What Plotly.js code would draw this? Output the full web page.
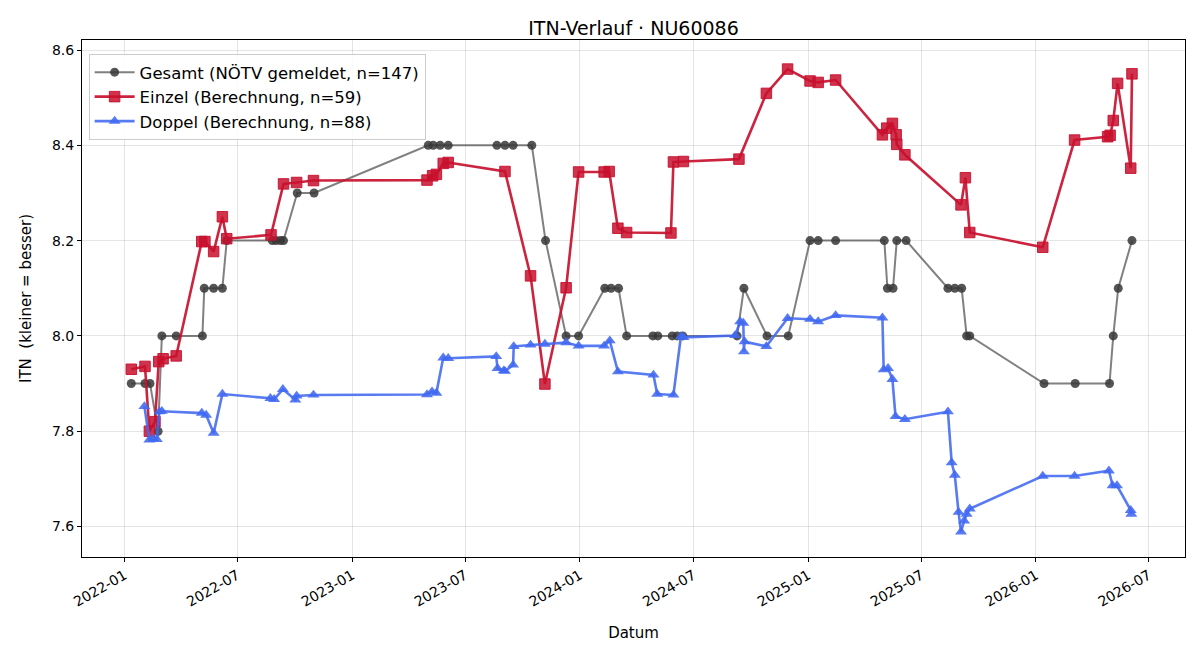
<!DOCTYPE html>
<html>
<head>
<meta charset="utf-8">
<script src="https://cdn.plot.ly/plotly-3.0.1.min.js"></script>
<style>html,body{margin:0;padding:0;background:#fff;}#chart{width:1200px;height:660px;}</style>
</head>
<body>
<div id="chart"></div>
<script>
const gesamtDates = ["2022-01-12","2022-02-03","2022-02-11","2022-02-24","2022-03-02","2022-03-25","2022-05-06","2022-05-09","2022-05-24","2022-06-07","2022-06-14","2022-08-26","2022-09-01","2022-09-08","2022-09-13","2022-10-05","2022-11-01","2023-05-03","2023-05-11","2023-05-22","2023-06-04","2023-08-21","2023-09-03","2023-09-16","2023-10-16","2023-11-07","2023-12-10","2023-12-30","2024-02-10","2024-02-20","2024-03-03","2024-03-16","2024-04-27","2024-05-05","2024-05-28","2024-06-05","2024-06-14","2024-09-09","2024-09-20","2024-10-27","2024-11-30","2025-01-04","2025-01-17","2025-02-14","2025-05-03","2025-05-08","2025-05-17","2025-05-23","2025-06-07","2025-08-13","2025-08-24","2025-09-04","2025-09-12","2025-09-17","2026-01-14","2026-03-05","2026-04-29","2026-05-05","2026-05-13","2026-06-04"];
const gesamtValues = [7.9,7.9,7.9,7.8,8.0,8.0,8.0,8.1,8.1,8.1,8.2,8.2,8.2,8.2,8.2,8.3,8.3,8.4,8.4,8.4,8.4,8.4,8.4,8.4,8.4,8.2,8.0,8.0,8.1,8.1,8.1,8.0,8.0,8.0,8.0,8.0,8.0,8.0,8.1,8.0,8.0,8.2,8.2,8.2,8.2,8.1,8.1,8.2,8.2,8.1,8.1,8.1,8.0,8.0,7.9,7.9,7.9,8.0,8.1,8.2];

const einzelDates = ["2022-01-12","2022-02-03","2022-02-10","2022-02-19","2022-02-25","2022-03-04","2022-03-25","2022-05-05","2022-05-10","2022-05-24","2022-06-07","2022-06-14","2022-08-24","2022-09-13","2022-10-04","2022-10-31","2023-05-01","2023-05-10","2023-05-16","2023-05-27","2023-06-04","2023-09-03","2023-10-14","2023-11-06","2023-12-10","2023-12-30","2024-02-09","2024-02-17","2024-03-02","2024-03-16","2024-05-26","2024-05-30","2024-06-15","2024-09-12","2024-10-26","2024-11-29","2025-01-04","2025-01-17","2025-02-14","2025-04-30","2025-05-07","2025-05-16","2025-05-22","2025-05-23","2025-06-05","2025-09-03","2025-09-10","2025-09-17","2026-01-12","2026-03-04","2026-04-26","2026-04-30","2026-05-05","2026-05-12","2026-06-02","2026-06-04"];
const einzelValues = [7.930,7.936,7.800,7.820,7.946,7.952,7.958,8.198,8.198,8.177,8.250,8.204,8.212,8.319,8.322,8.326,8.327,8.336,8.339,8.362,8.364,8.345,8.126,7.899,8.101,8.344,8.344,8.345,8.226,8.217,8.216,8.365,8.366,8.371,8.509,8.560,8.535,8.532,8.537,8.422,8.436,8.446,8.422,8.402,8.380,8.275,8.332,8.217,8.186,8.411,8.418,8.421,8.452,8.530,8.352,8.550];

const doppelDates = ["2022-02-02","2022-02-10","2022-02-16","2022-02-22","2022-02-26","2022-03-02","2022-05-05","2022-05-12","2022-05-24","2022-06-07","2022-08-23","2022-08-29","2022-09-12","2022-10-02","2022-10-04","2022-10-31","2023-05-01","2023-05-09","2023-05-16","2023-05-27","2023-06-04","2023-08-20","2023-08-22","2023-09-01","2023-09-03","2023-09-16","2023-09-17","2023-10-14","2023-11-06","2023-12-10","2023-12-30","2024-02-09","2024-02-18","2024-03-02","2024-04-28","2024-05-04","2024-05-30","2024-06-11","2024-06-15","2024-09-06","2024-09-14","2024-09-19","2024-09-20","2024-09-21","2024-10-26","2024-11-29","2025-01-04","2025-01-17","2025-02-14","2025-04-30","2025-05-02","2025-05-09","2025-05-16","2025-05-21","2025-06-05","2025-08-13","2025-08-19","2025-08-24","2025-08-30","2025-09-03","2025-09-08","2025-09-12","2025-09-17","2026-01-12","2026-03-04","2026-04-28","2026-05-04","2026-05-11","2026-06-02","2026-06-03"];
const doppelValues = [7.852,7.782,7.784,7.783,7.841,7.842,7.838,7.834,7.796,7.878,7.869,7.867,7.888,7.866,7.874,7.876,7.877,7.883,7.880,7.954,7.953,7.957,7.932,7.927,7.926,7.939,7.978,7.981,7.983,7.986,7.979,7.979,7.990,7.925,7.918,7.878,7.876,7.999,7.997,8.001,8.030,8.027,7.967,7.988,7.978,8.037,8.035,8.030,8.043,8.038,7.929,7.932,7.909,7.831,7.825,7.841,7.734,7.708,7.630,7.589,7.612,7.626,7.637,7.706,7.706,7.717,7.686,7.686,7.634,7.626];

const seriesNames = ["Gesamt (NÖTV gemeldet, n=147)","Einzel (Berechnung, n=59)","Doppel (Berechnung, n=88)"];
const xTickVals = ["2022-01-01","2022-07-01","2023-01-01","2023-07-01","2024-01-01","2024-07-01","2025-01-01","2025-07-01","2026-01-01","2026-07-01"];
const xTickText = ["2022-01","2022-07","2023-01","2023-07","2024-01","2024-07","2025-01","2025-07","2026-01","2026-07"];
const yTickVals = [7.6,7.8,8.0,8.2,8.4,8.6];
const yTickText = ["7.6","7.8","8.0","8.2","8.4","8.6"];

const FONT = "DejaVu Sans, sans-serif";

const traces = [
  {
    x: gesamtDates, y: gesamtValues, name: seriesNames[0], type: "scatter", mode: "lines+markers",
    line: {color: "rgba(60,60,60,0.65)", width: 2},
    marker: {symbol: "circle", size: 9, color: "rgba(55,55,55,0.85)", line: {width: 0}}
  },
  {
    x: einzelDates, y: einzelValues, name: seriesNames[1], type: "scatter", mode: "lines+markers",
    line: {color: "rgba(200,16,46,0.92)", width: 2.6},
    marker: {symbol: "square", size: 10.5, color: "rgba(200,16,46,0.85)", line: {width: 1, color: "rgba(200,16,46,0.9)"}}
  },
  {
    x: doppelDates, y: doppelValues, name: seriesNames[2], type: "scatter", mode: "lines+markers",
    line: {color: "rgba(65,105,240,0.88)", width: 2.6},
    marker: {symbol: "triangle-up", size: 10.5, color: "rgba(65,105,240,0.88)", line: {width: 0}}
  }
];

const layout = {
  width: 1200, height: 660,
  margin: {l: 82, r: 15, t: 40, b: 103},
  paper_bgcolor: "#fff", plot_bgcolor: "#fff",
  font: {family: FONT, size: 14, color: "#000"},
  title: {text: "ITN-Verlauf · NU60086", font: {family: FONT, size: 19, color: "#000"}, x: 0.5, xanchor: "center", xref: "paper", y: 0.957, yanchor: "middle"},
  showlegend: true,
  legend: {x: 0.006, y: 0.973, xanchor: "left", yanchor: "top", bgcolor: "rgba(255,255,255,0.85)", bordercolor: "#cccccc", borderwidth: 1, font: {family: FONT, size: 16.5}, itemwidth: 40},
  xaxis: {
    type: "date",
    range: ["2021-10-25", "2026-08-28"],
    tickvals: xTickVals, ticktext: xTickText, tickangle: -30,
    tickfont: {family: FONT, size: 14},
    ticks: "outside", ticklen: 4, tickcolor: "#000",
    showgrid: true, gridcolor: "rgba(0,0,0,0.1)", gridwidth: 1,
    showline: true, linecolor: "#000", linewidth: 1, mirror: true, zeroline: false,
    title: {text: "Datum", font: {family: FONT, size: 15}, standoff: 18}
  },
  yaxis: {
    range: [7.536, 8.621],
    tickvals: yTickVals, ticktext: yTickText,
    tickfont: {family: FONT, size: 14},
    ticks: "outside", ticklen: 4, tickcolor: "#000",
    showgrid: true, gridcolor: "rgba(0,0,0,0.1)", gridwidth: 1,
    showline: true, linecolor: "#000", linewidth: 1, mirror: true, zeroline: false,
    title: {text: "ITN  (kleiner = besser)", font: {family: FONT, size: 15}, standoff: 16}
  }
};

Plotly.newPlot("chart", traces, layout, {displayModeBar: false, staticPlot: true});
</script>
</body>
</html>
